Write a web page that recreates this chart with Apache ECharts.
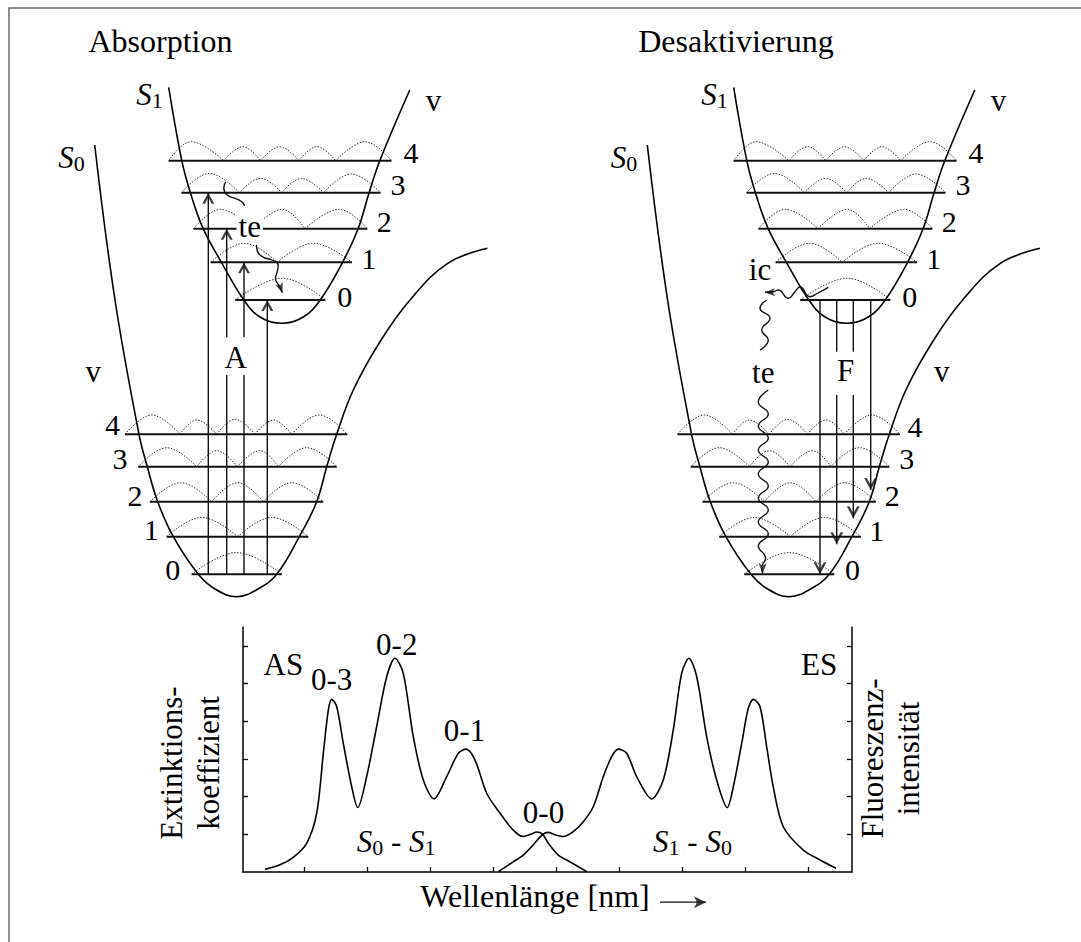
<!DOCTYPE html>
<html><head><meta charset="utf-8">
<script src="https://cdn.jsdelivr.net/npm/echarts@6/dist/echarts.min.js"></script>
<style>html,body{margin:0;padding:0;background:#fff}#c{width:1081px;height:942px}</style>
</head><body><div id="c"></div>
<script>
// ===================== DATA =====================
// Potential curves, panel units: X = nuclear coordinate, E = energy
const s0CurveX = [54.7, 75, 99, 107.3, 117.7, 133.3, 158.3, 175, 196.7, 218, 236.7, 259.3, 276.7, 286.7, 296.7, 313.3, 340, 370, 407.7, 447.3];
const s0CurveE = [475, 320, 185.7, 153.3, 118.3, 83.3, 45.7, 31, 23.3, 31, 45.7, 83.3, 118.3, 153.3, 185.7, 230, 278.3, 320, 356.7, 371.7];
const s1CurveX = [128.7, 141.8, 150.4, 163.2, 181.4, 203.8, 220, 241.7, 263.3, 280.2, 302.6, 318.1, 329.1, 339.8, 369.8];
const s1CurveE = [532.7, 459.3, 427.3, 391.3, 357.7, 320, 303, 296.7, 303, 320, 357.7, 391.3, 427.3, 459.3, 530];

// Vibrational levels v = 0..4
const s0LevelE = [45.7, 83.3, 118.3, 153.3, 185.7];
const s0LevelLeft = [151.7, 126.7, 110, 98.3, 85];
const s0LevelRight = [241.7, 268.3, 283.3, 296.7, 307.3];
const s1LevelE = [320, 357.7, 391.3, 427.3, 459.3];
const s1LevelLeft = [195.2, 170.7, 153.5, 141.5, 128.7];
const s1LevelRight = [285.4, 311.9, 327.4, 340.5, 351.5];

// Vibrational wave functions (nodes, maxima positions, maxima heights)
const s0Nodes = [[151.7, 241.7], [126.7, 197.7, 268.3], [110, 171.7, 223.3, 283.3], [98.3, 156.7, 197.3, 238.3, 296.7], [85, 140, 176.7, 215, 251.7, 307.3]];
const s0PeakX = [[196.7], [161.7, 231.7], [140.7, 197.7, 251.7], [126.7, 176.7, 220, 266.7], [111.7, 156.7, 195, 233.3, 279.3]];
const s0PeakH = [[21.7], [19.3, 19.3], [19, 19, 19], [19, 16, 16, 19], [19.3, 14.3, 15, 14.3, 19.3]];
const s1Nodes = [[195.2, 285.4], [170.7, 237.2, 311.9], [153.5, 213, 264.8, 327.4], [141.5, 199.3, 241.7, 283.7, 340.5], [128.7, 183.8, 220.7, 258.9, 295.7, 351.5]];
const s1PeakX = [[242.4], [204.5, 273.4], [180.4, 242.4, 299.2], [169.4, 220.7, 261.3, 311.2], [151.1, 202.8, 239.6, 276.8, 325]];
const s1PeakH = [[21.7], [19, 19], [19.3, 19.3, 19.3], [19.3, 14.3, 14.3, 18.7], [19, 14, 14, 14, 19]];

// Absorption arrows (S0 v=0 -> S1 v=3,2,1,0)
const absArrowX = [168.3, 186.7, 204, 227.3];
const absArrowFrom = [45.7, 45.7, 45.7, 45.7];
const absArrowTo = [427.3, 391.3, 357.7, 320];
const absArrowGap = [null, [245, 282.7], [245, 282.7], null];
// Fluorescence arrows (S1 v=0 -> S0)
const fluoArrowX = [227.4, 244.1, 260.7, 278.1];
const fluoArrowFrom = [320, 320, 320, 320];
const fluoArrowTo = [45.7, 75.7, 101.7, 130];
const fluoArrowGap = [null, [225, 268.3], [225, 268.3], null];

// Wavy arrows (thermal relaxation te, internal conversion ic)
const teL1X = [185.6, 183.8, 187.3, 197.6, 202.8, 204.5];
const teL1E = [438.3, 431.7, 425, 420.7, 417.3, 414];
const teL2X = [216.5, 217.6, 223.4, 232, 238.2, 237.2, 235.5, 239.6, 242.4];
const teL2E = [375, 368.3, 362.7, 360, 355, 348.3, 341.7, 333.3, 327.3];
const icX = [235.7, 225.4, 217.4, 207.4, 202.4, 195.7, 185.7, 180.7, 172.4];
const icE = [332.7, 327, 323.3, 333, 328.3, 321.7, 330, 328.3, 327.7];
const teR1X = [174.1, 167.4, 177.4, 169.1, 175.7, 167.4];
const teR1E = [320, 311.7, 301.7, 290, 280, 270];
const teR2X = [175.7, 165.7, 175.7, 165.7, 175.7, 165.7, 175.7, 165.7, 175.7, 165.7, 175.7, 165.7, 175.7, 165.7, 173, 169, 170.1];
const teR2E = [230, 218, 206, 194, 182, 170, 158, 146, 134, 122, 110, 98, 86, 74, 62, 52, 46.7];

// Level numbers
const digits = ['0', '1', '2', '3', '4'];
const s1DigitX = [304.7, 328.8, 344.3, 358, 371];
const s1DigitE = [323.7, 362, 398.7, 435.4, 468];
const s0DigitLX = [132.7, 111.3, 95, 80, 72.5];
const s0DigitLE = [51, 90.4, 124.7, 162, 195.4];
const s0DigitRX = [259.9, 284.1, 299.6, 314.1, 322.4];
const s0DigitRE = [51, 89.4, 124.7, 162, 193.7];

// Panel annotations
const s1Labels = ['{i|S}{s|1}', '{n|v}'];
const s1LabelX = [109.5, 393.5];
const s1LabelE = [525.5, 520];
const s0Labels = ['{i|S}{s|0}'];
const s0LabelX = [31.5];
const s0LabelE = [463];
const leftLabels = ['{t|Absorption}', '{n|v}', '{n|A}', '{b|te}'];
const leftLabelX = [120.5, 53.3, 195.8, 209.7];
const leftLabelE = [578.6, 249, 262.3, 394];
const rightLabels = ['{t|Desaktivierung}', '{n|v}', '{n|F}', '{n|te}', '{n|ic}'];
const rightLabelX = [143.4, 349.1, 252.9, 170.7, 167.4];
const rightLabelE = [578.6, 249, 250, 248, 350.7];

// Spectra (x: Wellenlänge, y: Extinktion / Fluoreszenz)
const absX = [0.379, 0.617, 0.828, 1.041, 1.2, 1.305, 1.385, 1.438, 1.517, 1.622, 1.756, 1.851, 1.993, 2.152, 2.311, 2.443, 2.574, 2.733, 2.892, 3.062, 3.263, 3.448, 3.57, 3.713, 3.898, 4.11, 4.32, 4.479, 4.612, 4.691, 4.787, 4.876, 5.035, 5.22, 5.486];
const absY = [0.07, 0.19, 0.39, 0.76, 1.56, 3.15, 4.30, 4.58, 4.39, 3.41, 2.26, 1.71, 2.53, 3.86, 5.18, 5.67, 5.27, 3.59, 2.44, 1.94, 2.53, 3.15, 3.26, 2.97, 2.09, 1.56, 1.11, 0.94, 1.01, 1.06, 1.0, 0.76, 0.45, 0.27, 0.01];
const emX = [4.082, 4.32, 4.479, 4.638, 4.787, 4.876, 4.982, 5.114, 5.273, 5.432, 5.59, 5.749, 5.882, 5.987, 6.12, 6.279, 6.517, 6.701, 6.86, 6.993, 7.109, 7.232, 7.39, 7.549, 7.717, 7.813, 7.946, 8.05, 8.13, 8.236, 8.343, 8.447, 8.606, 8.924, 9.19, 9.443];
const emY = [0.01, 0.27, 0.45, 0.72, 1.0, 1.05, 0.99, 0.94, 1.07, 1.33, 1.73, 2.53, 3.06, 3.26, 3.15, 2.53, 1.94, 2.44, 3.77, 5.27, 5.67, 5.18, 3.59, 2.44, 1.71, 2.26, 3.41, 4.34, 4.58, 4.39, 3.32, 2.26, 1.20, 0.58, 0.32, 0.10];
const specLabels = ['{n|AS}', '{n|0-3}', '{n|0-2}', '{n|0-1}', '{n|0-0}', '{n|ES}', '{i|S}{s|0}{n| - }{i|S}{s|1}', '{i|S}{s|1}{n| - }{i|S}{s|0}'];
const specLabelX = [0.67, 1.438, 2.47, 3.546, 4.80, 9.176, 2.46, 7.165];
const specLabelY = [5.51, 5.11, 6.04, 3.76, 1.57, 5.51, 0.82, 0.82];
const xTicks = [1, 2, 3, 4, 5, 6, 7, 8, 9];
const yTicks = [1, 2, 3, 4, 5, 6];
const wlArrowX = [6.649, 7.379];
const wlArrowY = [-0.80, -0.80];

// ===================== CHART =====================
const FONT = '"Liberation Serif", "Times New Roman", serif';
const noBorder = {textBorderWidth: 0, textBorderColor: 'transparent', textShadowBlur: 0};
const RICH = {
  t: Object.assign({fontFamily: FONT, fontSize: 32, color: '#000', lineHeight: 36}, noBorder),
  n: Object.assign({fontFamily: FONT, fontSize: 31, color: '#000', lineHeight: 34}, noBorder),
  d: Object.assign({fontFamily: FONT, fontSize: 30, color: '#000', lineHeight: 34}, noBorder),
  i: Object.assign({fontFamily: FONT, fontSize: 31, fontStyle: 'italic', color: '#000', lineHeight: 34}, noBorder),
  s: Object.assign({fontFamily: FONT, fontSize: 22, color: '#000', lineHeight: 21, verticalAlign: 'bottom'}, noBorder),
  b: Object.assign({fontFamily: FONT, fontSize: 31, color: '#000', lineHeight: 30, backgroundColor: '#fff', padding: [0, 2]}, noBorder)
};
const curveStyle = {color: '#000', width: 1.6};
const levelStyle = {color: '#111', width: 2};
const dotStyle = {color: '#333', width: 1, type: [1.5, 1.5]};
const shaftStyle = {color: '#111', width: 1.4};
const wigStyle = {color: '#111', width: 1.4};
const CHEV_UP = 'path://M0,11 L6,0 L12,11 L9.4,11 L6,4.8 L2.6,11 Z';
const CHEV_DOWN = 'path://M0,0 L6.5,12 L13,0 L10.4,0 L6.5,7 L2.6,0 Z';

const series = [];
function line(xi, yi, xs, ys, style, extra) {
  series.push(Object.assign({
    type: 'line', xAxisIndex: xi, yAxisIndex: yi,
    data: xs.map((x, i) => [x, ys[i]]),
    symbol: 'none', showSymbol: false, clip: false, silent: true, animation: false,
    lineStyle: style, z: 2
  }, extra || {}));
}
function humps(xi, yi, nodes, px, ph, E) {
  for (let i = 0; i < px.length; i++) {
    line(xi, yi, [nodes[i], px[i], nodes[i + 1]], [E, E + ph[i], E], dotStyle, {smooth: 0.4, z: 1});
  }
}
function texts(xi, yi, xs, ys, t, z) {
  series.push({
    type: 'scatter', xAxisIndex: xi, yAxisIndex: yi, clip: false, silent: true, animation: false,
    symbolSize: 1, itemStyle: {color: 'rgba(255,255,255,0)'}, z: z || 10,
    label: Object.assign({show: true, position: 'inside', formatter: '{b}', rich: RICH, color: '#000',
      fontFamily: FONT, fontSize: 31, opacity: 1}, noBorder),
    data: xs.map((x, i) => ({name: t[i], value: [x, ys[i]]}))
  });
}
function heads(xi, yi, xs, ys, symbol, size, rotate, offset) {
  series.push({
    type: 'scatter', xAxisIndex: xi, yAxisIndex: yi, clip: false, silent: true, animation: false,
    symbol: symbol, symbolSize: size, symbolRotate: rotate || 0, symbolOffset: offset || [0, 0],
    itemStyle: {color: '#111'}, z: 5,
    data: xs.map((x, i) => [x, ys[i]])
  });
}
function arrows(xi, yi, X, from, to, gap) {
  X.forEach((x, i) => {
    if (gap[i]) {
      const lowFirst = from[i] < to[i];
      const g0 = lowFirst ? gap[i][0] : gap[i][1];
      const g1 = lowFirst ? gap[i][1] : gap[i][0];
      line(xi, yi, [x, x], [from[i], g0], shaftStyle);
      line(xi, yi, [x, x], [g1, to[i]], shaftStyle);
    } else {
      line(xi, yi, [x, x], [from[i], to[i]], shaftStyle);
    }
  });
}

const panels = [{s0: 1, s1: 1, y: 1}, {s0: 2, s1: 3, y: 2}];
panels.forEach((p, k) => {
  line(p.s0, p.y, s0CurveX, s0CurveE, curveStyle, {smooth: 0.4});
  line(p.s1, p.y, s1CurveX, s1CurveE, curveStyle, {smooth: 0.4});
  s0LevelE.forEach((E, v) => {
    line(p.s0, p.y, [s0LevelLeft[v], s0LevelRight[v]], [E, E], levelStyle);
    humps(p.s0, p.y, s0Nodes[v], s0PeakX[v], s0PeakH[v], E);
  });
  s1LevelE.forEach((E, v) => {
    line(p.s1, p.y, [s1LevelLeft[v], s1LevelRight[v]], [E, E], levelStyle);
    humps(p.s1, p.y, s1Nodes[v], s1PeakX[v], s1PeakH[v], E);
  });
  texts(p.s1, p.y, s1DigitX, s1DigitE, digits.map(d => '{d|' + d + '}'));
  texts(p.s1, p.y, s1LabelX, s1LabelE, s1Labels);
  texts(p.s0, p.y, s0LabelX, s0LabelE, s0Labels);
});
// Left panel: absorption
arrows(1, 1, absArrowX, absArrowFrom, absArrowTo, absArrowGap);
heads(1, 1, absArrowX, absArrowTo, CHEV_UP, [12, 11], 0, [0, '50%']);
line(1, 1, teL1X, teL1E, wigStyle, {smooth: 0.5});
line(1, 1, teL2X, teL2E, wigStyle, {smooth: 0.5});
heads(1, 1, [teL2X[teL2X.length - 1]], [teL2E[teL2E.length - 1]], 'arrow', [6, 10], 200, [0, 0]);
texts(1, 1, s0DigitLX, s0DigitLE, digits.map(d => '{d|' + d + '}'));
texts(1, 1, leftLabelX, leftLabelE, leftLabels, 12);
// Right panel: deactivation
arrows(2, 2, fluoArrowX, fluoArrowFrom, fluoArrowTo, fluoArrowGap);
heads(2, 2, fluoArrowX, fluoArrowTo, CHEV_DOWN, [13, 12], 0, [0, '-50%']);
line(2, 2, icX, icE, wigStyle, {smooth: 0.5});
heads(2, 2, [icX[icX.length - 1]], [icE[icE.length - 1]], 'arrow', [6, 10], 90, [0, 0]);
line(2, 2, teR1X, teR1E, wigStyle, {smooth: 0.5});
line(2, 2, teR2X, teR2E, wigStyle, {smooth: 0.5});
heads(2, 2, [teR2X[teR2X.length - 1]], [teR2E[teR2E.length - 1]], 'arrow', [6, 10], 180, [0, 0]);
texts(2, 2, s0DigitRX, s0DigitRE, digits.map(d => '{d|' + d + '}'));
texts(2, 2, rightLabelX, rightLabelE, rightLabels, 12);
// Spectra
line(4, 3, absX, absY, curveStyle, {smooth: 0.3});
line(4, 4, emX, emY, curveStyle, {smooth: 0.3});
texts(4, 3, specLabelX, specLabelY, specLabels);
line(4, 3, wlArrowX, wlArrowY, {color: '#111', width: 1.4});
heads(4, 3, [wlArrowX[1]], [wlArrowY[1]], 'arrow', [9, 12], 270, [0, 0]);

const hiddenAxis = (gi, min, max) => ({type: 'value', gridIndex: gi, min: min, max: max, show: false});
const specAxisLine = {show: true, onZero: false, lineStyle: {color: '#000', width: 1.5}};

const option = {
  backgroundColor: '#fff',
  animation: false,
  grid: [
    {left: 9, top: 8, width: 1300, height: 1300, show: true, borderColor: '#6a6a6a', borderWidth: 1.5, backgroundColor: 'transparent', outerBoundsMode: 'none'},
    {left: 40, top: 0, width: 480, height: 620, outerBoundsMode: 'none'},
    {left: 592.6, top: 0, width: 480, height: 620, outerBoundsMode: 'none'},
    {left: 243, top: 627, width: 609, height: 245, outerBoundsMode: 'none'}
  ],
  xAxis: [
    hiddenAxis(0, 0, 1),
    hiddenAxis(1, 0, 480),
    hiddenAxis(2, 0, 480),
    hiddenAxis(2, -12.4, 467.6),
    {type: 'value', gridIndex: 3, min: 0.03, max: 9.697, position: 'bottom',
      axisLine: specAxisLine,
      axisTick: {show: true, inside: true, length: 5, customValues: xTicks, lineStyle: {color: '#000', width: 1.3}},
      axisLabel: {show: false}, splitLine: {show: false},
      name: 'Wellenlänge [nm]', nameLocation: 'middle', nameGap: 8,
      nameTextStyle: {fontFamily: FONT, fontSize: 32, color: '#000', padding: [0, 25, 0, 0]}}
  ],
  yAxis: [
    hiddenAxis(0, 0, 1),
    hiddenAxis(1, 0, 620),
    hiddenAxis(2, 0, 620),
    {type: 'value', gridIndex: 3, min: 0, max: 6.5, interval: 1, position: 'left',
      axisLine: specAxisLine,
      axisTick: {show: true, inside: true, length: 5, customValues: yTicks, lineStyle: {color: '#000', width: 1.3}},
      axisLabel: {show: false}, splitLine: {show: false},
      name: 'Extinktions-\nkoeffizient', nameLocation: 'middle', nameRotate: 90, nameGap: 16,
      nameTextStyle: {fontFamily: FONT, fontSize: 31, lineHeight: 37, color: '#000', padding: [0, 27, 0, 0]}},
    {type: 'value', gridIndex: 3, min: 0, max: 6.5, interval: 1, position: 'right',
      axisLine: specAxisLine,
      axisTick: {show: true, inside: true, length: 5, customValues: yTicks, lineStyle: {color: '#000', width: 1.3}},
      axisLabel: {show: false}, splitLine: {show: false},
      name: 'Fluoreszenz-\nintensität', nameLocation: 'middle', nameRotate: 90, nameGap: 2,
      nameTextStyle: {fontFamily: FONT, fontSize: 31, lineHeight: 36, color: '#000', padding: [0, 18, 0, 0]}}
  ],
  series: series
};
const chart = echarts.init(document.getElementById('c'), null, {renderer: 'svg'});
chart.setOption(option);
</script></body></html>
